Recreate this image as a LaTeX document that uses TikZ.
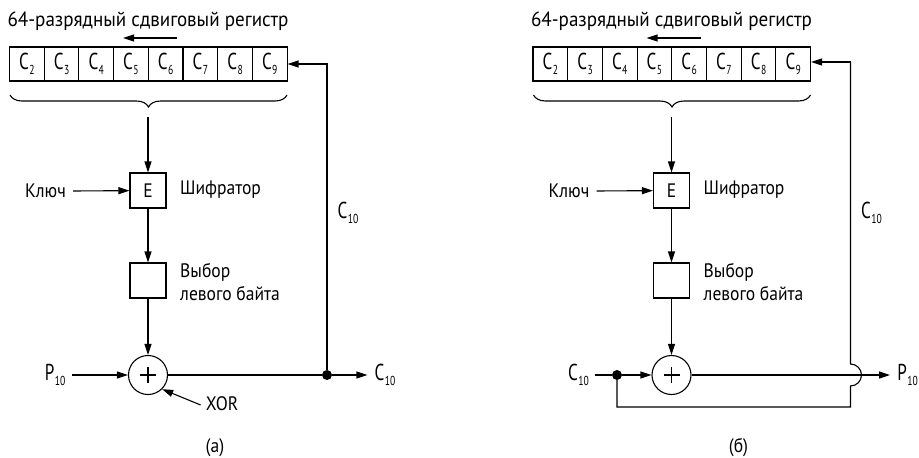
\documentclass[tikz,border=0pt]{standalone}
\usepackage{fontspec}
\setmainfont{PT Sans}[FakeStretch=0.9]
\newfontfamily\condf{PT Sans}[FakeStretch=0.74]
\newfontfamily\titlef{PT Sans}[FakeStretch=0.93]
\usetikzlibrary{arrows.meta,decorations.pathreplacing}
\newcommand\Cs[2]{{\condf\fontsize{23}{23}\selectfont #1\kern0.5pt\raisebox{-0.45ex}{\fontsize{13}{13}\selectfont #2}}}
\tikzset{
  ln/.style={line width=1.1pt},
  arr/.style={ln,-{Triangle[length=11pt,width=7pt]}},
  cell/.style={draw,line width=1.1pt,minimum width=34.7pt,minimum height=34pt,inner sep=0pt},
  blk/.style={draw,line width=1.1pt,minimum width=36pt,minimum height=35pt,inner sep=0pt,font=\fontsize{19.5}{19.5}\selectfont},
  txt/.style={inner sep=0pt,font=\fontsize{19.5}{23}\selectfont},
  ttl/.style={inner sep=0pt,font=\titlef\fontsize{20.5}{20.5}\selectfont},
  xorc/.style={draw,circle,line width=1.1pt,minimum size=39pt,inner sep=0pt},
  pls/.style={line width=1.3pt},
  dot/.style={circle,fill,minimum size=10pt,inner sep=0pt}
}
% common upper part: #1 = name prefix
\newcommand\upperpart[1]{%
  \node[ttl] (#1title) at (148,21) {64-разрядный сдвиговый регистр};
  \coordinate (#1sa) at (177,38);
  \coordinate (#1sb) at (123,38);
  \draw[arr] (#1sa) -- (#1sb);
  \foreach \i [count=\k from 0] in {2,...,9} {
    \node[cell] (#1c\i) at ({9.5+34.7*(\k+0.5)},64) {\Cs{C}{\i}};
  }
  \draw[ln,decorate,decoration={brace,amplitude=12pt,mirror}] (10,95) -- (287,95);
  \coordinate (#1bt) at (148,117);
  \node[blk] (#1E) at (148,190.5) {E};
  \draw[arr] (#1bt) -- (#1E);
  \node[txt] (#1key) at (45.5,191) {Ключ};
  \draw[arr] ([xshift=7pt]#1key.east) -- (#1E);
  \node[txt,anchor=west] (#1enc) at (180,190) {Шифратор};
  \node[blk] (#1sel) at (148,280.5) {};
  \draw[arr] (#1E) -- (#1sel);
  \node[txt,anchor=north west,align=left] (#1seltxt) at (180,263) {Выбор\\левого байта};
  \node[xorc] (#1x) at (148,375) {};
  \draw[pls] ([xshift=-8pt]#1x.center) -- ([xshift=8pt]#1x.center)
             ([yshift=-8pt]#1x.center) -- ([yshift=8pt]#1x.center);
  \draw[arr] (#1sel) -- (#1x);
}
\begin{document}
\begin{tikzpicture}[x=1pt,y=-1pt]
\useasboundingbox (0,0) rectangle (919,458);
% ---------- panel (a)
\upperpart{a}
\node[txt] (aP) at (55,375) {\Cs{P}{10}};
\draw[arr] ([xshift=7pt]aP.east) -- (ax);
\node[txt] (aXOR) at (222,404) {XOR};
\draw[arr] ([xshift=-5pt,yshift=-1pt]aXOR.west) -- (ax.-45);
\node[dot] (adot) at (327,375) {};
\node[txt] (aC) at (385,375) {\Cs{C}{10}};
\draw[ln] (ax) -- (adot);
\draw[arr] (adot) -- ([xshift=-7pt]aC.west);
\draw[arr] (adot) |- (ac9);
\node[txt] (aCl) at (348,213) {\Cs{C}{10}};
\node[txt] (alab) at (215,448) {(a)};
% ---------- panel (b)
\begin{scope}[xshift=523.5pt]
\upperpart{b}
\node[txt] (bC) at (55,375) {\Cs{C}{10}};
\node[dot] (bdot) at (93.5,375) {};
\draw[ln] ([xshift=6pt]bC.east) -- (bdot);
\draw[arr] (bdot) -- (bx);
\node[txt] (bP) at (384,375) {\Cs{P}{10}};
\draw[arr] (bx) -- ([xshift=-7pt]bP.west);
\coordinate (bcor) at (327,407);
\coordinate (bjl) at (327,386);
\draw[ln] (bdot) |- (bcor) -- (bjl) arc[start angle=-90,end angle=90,radius=11pt] -- (327,62);
\draw[arr] (327,62) -- (bc9.east |- 0,62);
\node[txt] (bCl) at (348,213) {\Cs{C}{10}};
\node[txt] (blab) at (215,448) {(б)};
\end{scope}
\end{tikzpicture}
\end{document}
